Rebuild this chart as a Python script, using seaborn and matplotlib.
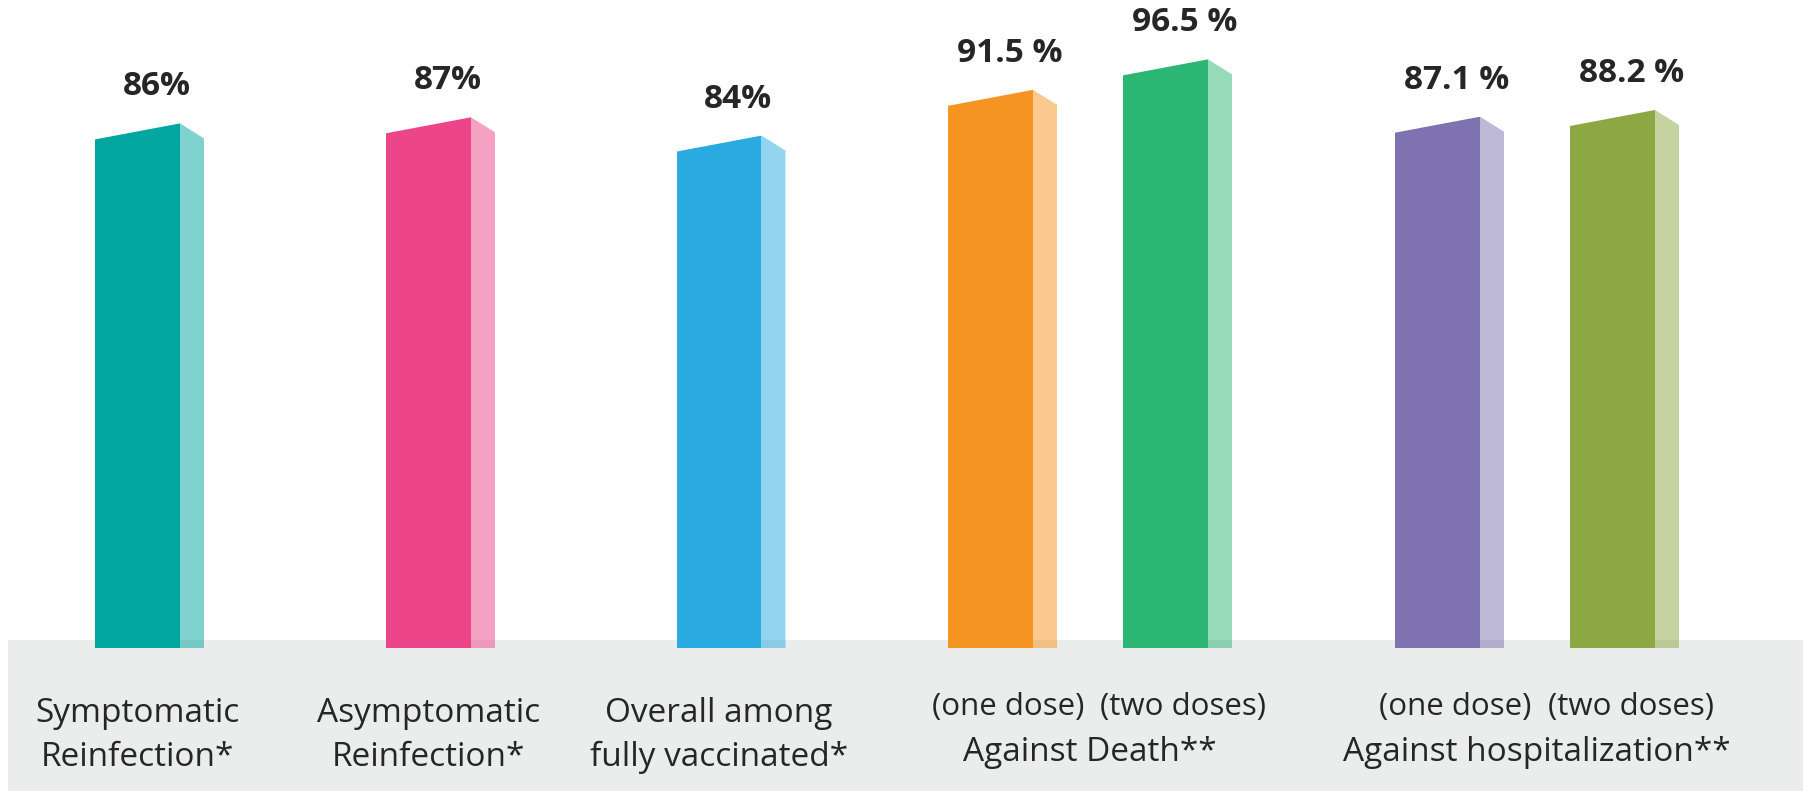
import numpy as np
import pandas as pd
import matplotlib
matplotlib.use("Agg")
import matplotlib.pyplot as plt
from matplotlib.patches import Polygon
import seaborn as sns

# ---------------- data ----------------
categories = ["Symptomatic\nReinfection*", "Asymptomatic\nReinfection*",
              "Overall among\nfully vaccinated*", "(one dose)", "(two doses)",
              "(one dose)", "(two doses)"]
values = [86, 87, 84, 91.5, 96.5, 87.1, 88.2]
value_labels = ["86%", "87%", "84%", "91.5 %", "96.5 %", "87.1 %", "88.2 %"]
groups = ["", "", "", "Against Death**", "Against Death**",
          "Against hospitalization**", "Against hospitalization**"]
colors = ["#02A6A0", "#EC4589", "#29AAE1", "#F59420", "#2CB674", "#7E72B0", "#8DA843"]

# ---------------- layout (pixel based) ----------------
W, H = 1803, 791
K = 6.1            # pixels per percentage point
BASE = 648         # pixel row of the value 0
bar_x = [137.5, 428.5, 719, 990.5, 1165.5, 1437.5, 1612.5]   # front-face centres
FRONT_W, SIDE_W = 85, 24
SLANT_F, SLANT_S = 16, 15
TXT = "#262626"

def py(p):
    """pixel row -> data y"""
    return (BASE - p) / K

sns.set_style("white")
plt.rcParams["font.family"] = ["Open Sans", "DejaVu Sans"]

fig = plt.figure(figsize=(W / 100, H / 100), dpi=100)
ax = fig.add_axes([0, 0, 1, 1])

df = pd.DataFrame({"x": bar_x, "v": values, "id": [f"b{i}" for i in range(len(values))]})
pal = dict(zip(df["id"], colors))
min_gap = np.diff(np.unique(bar_x)).min()

# front faces
sns.barplot(data=df, x="x", y="v", hue="id", palette=pal, native_scale=True,
            dodge=False, width=FRONT_W / min_gap, errorbar=None, saturation=1,
            linewidth=0, legend=False, ax=ax)
n_front = len(ax.patches)
# side faces
df_side = df.assign(xs=df["x"] + (FRONT_W + SIDE_W) / 2)
sns.barplot(data=df_side, x="xs", y="v", hue="id", palette=pal, native_scale=True,
            dodge=False, width=SIDE_W / min_gap, errorbar=None, saturation=1,
            linewidth=0, alpha=0.5, legend=False, ax=ax)

ax.set_xlim(0, W)
ax.set_ylim(py(H), py(0))
ax.axis("off")

patches = list(ax.patches)
fronts = sorted(patches[:n_front], key=lambda p: p.get_x())
sides = sorted(patches[n_front:], key=lambda p: p.get_x())
for p in fronts:
    xl, w, top = p.get_x(), p.get_width(), p.get_height()
    clip = Polygon([(xl, py(H)), (xl, top - SLANT_F / K), (xl + w, top), (xl + w, py(H))],
                   closed=True, transform=ax.transData)
    p.set_clip_path(clip)
    p.set_zorder(2)
for p in sides:
    xl, w, top = p.get_x(), p.get_width(), p.get_height()
    clip = Polygon([(xl, py(H)), (xl, top), (xl + w, top - SLANT_S / K), (xl + w, py(H))],
                   closed=True, transform=ax.transData)
    p.set_clip_path(clip)
    p.set_zorder(2)

# grey band
ax.axhspan(py(H), py(640), xmin=8 / W, xmax=1, color="#EBECEC", zorder=0, lw=0)

# value labels
for x, v, lab in zip(bar_x, values, value_labels):
    ax.text(x + 19, v + 28 / K, lab, ha="center", va="baseline", fontsize=24,
            fontweight="bold", color=TXT, zorder=3)

# category labels
for x, cat, g in zip(bar_x, categories, groups):
    lines = cat.split("\n")
    if g == "":
        for line, p_ in zip(lines, [722, 766]):
            ax.text(x, py(p_), line, ha="center", va="baseline", fontsize=24,
                    color=TXT, zorder=3)
    else:
        ax.text(x + 18, py(715), cat, ha="center", va="baseline", fontsize=22.5,
                color=TXT, zorder=3)
for g in dict.fromkeys(x for x in groups if x):
    xs = [x for x, gg in zip(bar_x, groups) if gg == g]
    cx = (min(xs) + max(xs)) / 2 + 12
    ax.text(cx, py(761), g, ha="center", va="baseline", fontsize=24, color=TXT, zorder=3)

fig.savefig("out.png", dpi=100)
